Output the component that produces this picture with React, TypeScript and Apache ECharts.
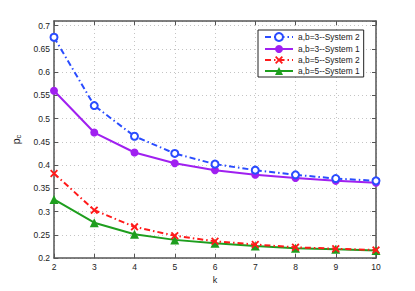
import React, { useEffect, useRef } from "react";
import * as echarts from "echarts";

const kValues = [2, 3, 4, 5, 6, 7, 8, 9, 10];
const seriesNames = [
  "a,b=3--System 2",
  "a,b=3--System 1",
  "a,b=5--System 2",
  "a,b=5--System 1",
];
const ab3System2 = [0.675, 0.528, 0.462, 0.425, 0.402, 0.389, 0.379, 0.371, 0.366];
const ab3System1 = [0.56, 0.47, 0.427, 0.404, 0.389, 0.379, 0.372, 0.366, 0.362];
const ab5System2 = [0.382, 0.303, 0.267, 0.248, 0.236, 0.229, 0.223, 0.22, 0.217];
const ab5System1 = [0.326, 0.276, 0.251, 0.239, 0.232, 0.226, 0.221, 0.219, 0.216];
const yTicksMin = 0.2;
const yTicksMax = 0.71;

const FONT = "Arial, Liberation Sans, Helvetica, sans-serif";
const CROSS =
  "path://M0,1.6L1.6,0L5,3.4L8.4,0L10,1.6L6.6,5L10,8.4L8.4,10L5,6.6L1.6,10L0,8.4L3.4,5Z";

export default function App() {
  const ref = useRef<HTMLDivElement>(null);
  useEffect(() => {
    document.body.style.margin = "0";
    if (!ref.current) return;
    const chart = echarts.init(ref.current, null, { renderer: "svg" });
    const pair = (vals: number[]) => kValues.map((k, i) => [k, vals[i]]);
    const axisLine = { show: true, lineStyle: { color: "#555", width: 1.5 } };
    const tick = { show: true, inside: true, length: 4, lineStyle: { color: "#555" } };
    const split = { show: true, lineStyle: { color: "#c4c4c4", type: [1, 3] as any, width: 1 } };
    chart.setOption({
      animation: false,
      backgroundColor: "#fff",
      textStyle: { fontFamily: FONT },
      grid: { left: 54, right: 39, top: 21, bottom: 33, containLabel: false },
      legend: {
        orient: "vertical",
        left: 258,
        top: 30,
        data: seriesNames,
        backgroundColor: "#fff",
        borderColor: "#222",
        borderWidth: 1,
        borderRadius: 0,
        padding: [2, 4, 2, 6],
        itemWidth: 28,
        itemHeight: 10,
        itemGap: 3,
        textStyle: { fontSize: 8.4, color: "#222", fontFamily: FONT },
      },
      xAxis: [
        {
          type: "value",
          min: 2,
          max: 10,
          interval: 1,
          name: "k",
          nameLocation: "middle",
          nameGap: 16,
          nameTextStyle: { fontSize: 9, color: "#222", fontFamily: FONT },
          axisLine,
          axisTick: tick,
          axisLabel: { fontSize: 8.5, color: "#222", margin: 4, fontFamily: FONT },
          splitLine: split,
        },
        {
          type: "value",
          position: "top",
          min: 2,
          max: 10,
          interval: 1,
          axisLine,
          axisTick: tick,
          axisLabel: { show: false },
          splitLine: { show: false },
        },
      ],
      yAxis: [
        {
          type: "value",
          min: yTicksMin,
          max: yTicksMax,
          interval: 0.05,
          name: "{p|p}{c|c}",
          nameLocation: "middle",
          nameRotate: 90,
          nameGap: 30,
          nameTextStyle: {
            rich: {
              p: { fontSize: 10.5, color: "#222", fontFamily: FONT },
              c: { fontSize: 7.5, color: "#222", fontFamily: FONT, padding: [5, 0, 0, 0] },
            },
          },
          axisLine,
          axisTick: tick,
          axisLabel: { fontSize: 8.5, color: "#222", margin: 4, showMaxLabel: false, fontFamily: FONT },
          splitLine: split,
        },
        {
          type: "value",
          position: "right",
          min: yTicksMin,
          max: yTicksMax,
          interval: 0.05,
          axisLine,
          axisTick: tick,
          axisLabel: { show: false },
          splitLine: { show: false },
        },
      ],
      series: [
        {
          name: seriesNames[0],
          type: "line",
          data: pair(ab3System2),
          symbol: "emptyCircle",
          symbolSize: 7,
          color: "#2a4cff",
          lineStyle: { width: 2, type: [6, 3, 1.5, 3] },
          itemStyle: { borderWidth: 2 },
          z: 4,
        },
        {
          name: seriesNames[1],
          type: "line",
          data: pair(ab3System1),
          symbol: "circle",
          symbolSize: 8,
          color: "#a020f0",
          lineStyle: { width: 2 },
          z: 3,
        },
        {
          name: seriesNames[2],
          type: "line",
          data: pair(ab5System2),
          symbol: CROSS,
          symbolSize: 8,
          color: "#ff1a1a",
          lineStyle: { width: 2, type: [6, 3, 1.5, 3] },
          z: 4,
        },
        {
          name: seriesNames[3],
          type: "line",
          data: pair(ab5System1),
          symbol: "triangle",
          symbolSize: 9,
          color: "#1e9e1e",
          lineStyle: { width: 2 },
          z: 3,
        },
      ],
    });
    return () => chart.dispose();
  }, []);
  return <div ref={ref} style={{ width: 415, height: 291 }} />;
}
